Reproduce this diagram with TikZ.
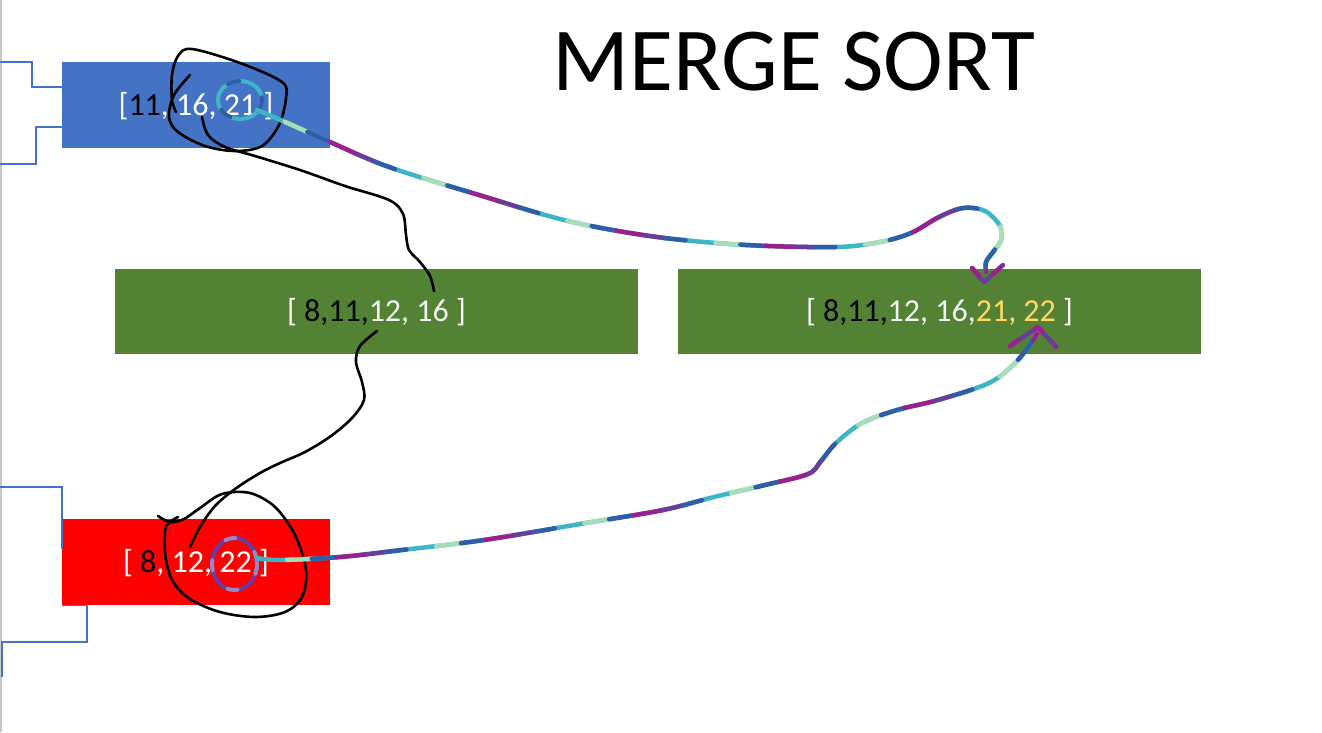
\documentclass[tikz,border=0pt]{standalone}
\usepackage{fontspec}
\setmainfont{Carlito}
\definecolor{boxblue}{HTML}{4472C4}
\definecolor{boxgreen}{HTML}{548235}
\definecolor{boxred}{HTML}{FF0000}
\definecolor{gold}{HTML}{FFD966}
\definecolor{offwhite}{HTML}{F2F2F2}
\definecolor{gteal}{HTML}{3DB5C6}
\definecolor{glgreen}{HTML}{A8DDB5}
\definecolor{gblue}{HTML}{2F5DA8}
\definecolor{gmag}{HTML}{9B1F8F}
\definecolor{gpurp}{HTML}{6A3D9A}
\definecolor{glilac}{HTML}{9A86C8}
\definecolor{edgegray}{HTML}{C8C8C8}
\begin{document}
\begin{tikzpicture}[x=1pt,y=-1pt,
  box/.style={draw=none, minimum width=268pt, minimum height=86pt, inner sep=0pt,
    text=white, font=\fontsize{32}{38}\selectfont, text height=20.2pt, text depth=0pt},
  gbox/.style={box, fill=boxgreen, minimum width=523pt, minimum height=85pt},
  bline/.style={draw=boxblue, line width=1.2pt},
  ink/.style={draw=black, line width=2.6pt, line cap=round, line join=round},
  glit/.style={draw=gteal, line width=4.5pt, line cap=round, line join=round,
    postaction={draw=glgreen, line width=4.5pt, dash pattern=on 25pt off 125pt, dash phase=120pt},
    postaction={draw=gblue, line width=4.5pt, dash pattern=on 25pt off 125pt, dash phase=95pt},
    postaction={draw=gmag, line width=4.5pt, dash pattern=on 30pt off 120pt, dash phase=70pt},
    postaction={draw=gpurp, line width=4.5pt, dash pattern=on 20pt off 130pt, dash phase=40pt},
    postaction={draw=gblue, line width=4.5pt, dash pattern=on 20pt off 130pt, dash phase=20pt}},
  tealring/.style={draw=gteal, line width=4pt, line cap=round,
    postaction={draw=gblue, line width=4pt, dash pattern=on 12pt off 30pt}},
  purpring/.style={draw=gpurp, line width=4pt, line cap=round,
    postaction={draw=glilac, line width=4pt, dash pattern=on 10pt off 25pt}},
  ghead/.style={draw=gpurp, line width=4.5pt, line cap=round, line join=round,
    postaction={draw=gmag, line width=4.5pt, dash pattern=on 10pt off 20pt}}
]
\fill[white] (0,0) rectangle (1322,732);
\useasboundingbox (0,0) rectangle (1322,732);
\draw[edgegray, line width=2pt] (1,0) -- (1,732);

% title
\node[anchor=base, font=\fontsize{90}{100}\selectfont] (title) at (794,90) {MERGE SORT};

% boxes
\node[box, fill=boxblue] (blue) at (196,105) {[\textcolor{black}{11}, 16, 21 ]};
\node[box, fill=boxred] (red) at (196,562) {[ \textcolor{black}{8}, 12, 22 ]};
\node[gbox] (gl) at (376.5,311.5) {[ \textcolor{black}{8,11,}\textcolor{offwhite}{12, 16} ]};
\node[gbox] (gr) at (939.5,311.5) {[ \textcolor{black}{8,11,}\textcolor{offwhite}{12, 16,}\textcolor{gold}{21, 22} ]};

% blue stepped lines at the left edge
\coordinate (e1) at (0,62);
\coordinate (e2) at (0,164);
\coordinate (e3) at (0,487);
\coordinate (e4) at (2,677);
\draw[bline] (e1) -| (32,87) -- (blue.west |- 32,87);
\draw[bline] (blue.west |- 0,127) -| (36,164) -- (e2);
\draw[bline] (e3) -| (62,549);
\draw[bline] (red.south west) -| (87,642) -| (e4);

% black ink strokes
\coordinate (a2s) at (202,117);
\coordinate (a2e) at (434,291);
\coordinate (b1s) at (377,331);
\coordinate (b1e) at (190,547);
\draw[ink] plot[smooth, tension=0.55] coordinates {(190,75) (174,95) (169,117) (178,132) (205,146) (235,151) (262,146) (279,125) (286,98) (282,82) (240,63) (192,49) (178,56) (172,75) (172,100) (176,112)};
\draw[ink] plot[smooth, tension=0.55] coordinates {(a2s) (208,135) (225,147) (255,156) (300,170) (345,186) (389,200) (403,214) (406,235) (409,250) (420,262) (430,276) (a2e)};
\draw[ink] plot[smooth, tension=0.55] coordinates {(b1s) (360,346) (356,362) (362,382) (364,400) (352,418) (331,436) (305,452) (280,463) (260,473) (235,489) (215,506) (200,527) (b1e)};
\draw[ink] plot[smooth, tension=0.55] coordinates {(158,516) (170,522) (184,519) (200,508) (222,494) (250,493) (275,507) (295,535) (306,570) (302,597) (285,612) (255,617) (220,612) (190,599) (172,580) (165,553) (166,527) (178,517)};

% glitter strokes
\coordinate (g1s) at (257,110);
\coordinate (g1t) at (984,282);
\coordinate (g2s) at (257,558);
\coordinate (g2t) at (1038,327);
\draw[tealring] (240,100) ellipse [x radius=22, y radius=19];
\draw[glit] plot[smooth, tension=0.55] coordinates {(g1s) (283,121) (330,142) (389,167) (479,195) (568,221) (657,237) (746,245) (836,247) (880,242) (911,233) (939,217) (963,208) (985,211) (1000,226) (1001,240) (993,252) (986,262) (986,272)};
\draw[ghead] (972,268) -- (g1t) -- (1003,265);
\draw[purpring] (234.5,564) ellipse [x radius=22.5, y radius=26];
\draw[glit] plot[smooth, tension=0.55] coordinates {(g2s) (280,560) (340,557) (402,550) (484,540) (586,523) (663,510) (714,497) (765,485) (808,474) (821,461) (836,443) (862,423) (897,410) (938,400) (989,383) (1015,363) (1031,343) (1037,334)};
\draw[ghead] (1010,346) -- (g2t) -- (1056,347);
\end{tikzpicture}
\end{document}
